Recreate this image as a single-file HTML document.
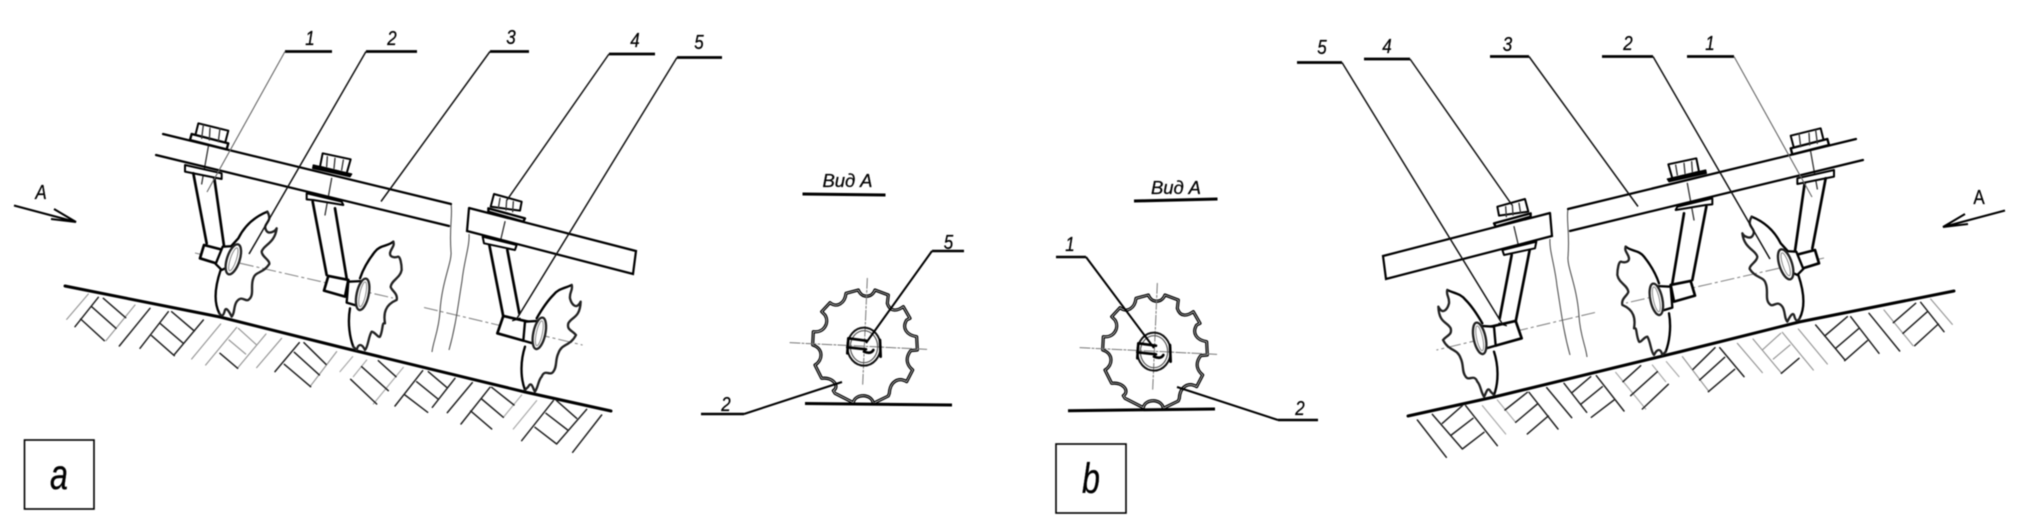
<!DOCTYPE html>
<html><head><meta charset="utf-8"><style>
html,body{margin:0;padding:0;background:#fff}
svg{display:block;filter:blur(.45px)}
text{font-family:"Liberation Sans",sans-serif;font-style:italic;fill:#000;stroke:#000;stroke-width:.25px;text-anchor:middle}
.n{font-size:20px}
</style></head><body>
<svg width="2020" height="531" viewBox="0 0 2020 531" xmlns="http://www.w3.org/2000/svg">
<defs>
<g id="a1" stroke="#000" stroke-width="6" stroke-linejoin="round" stroke-linecap="round" fill="none">
 <path stroke-width="7" d="M262,305C225,320 195,345 175,385L152,410M122,480C105,530 100,575 118,610"/>
 <path stroke="#222" stroke-width="7" d="M118,610C125,620 130,620 135,600C140,590 150,610 155,620C165,610 160,590 170,575C185,555 195,575 205,570C225,555 210,530 220,505C225,485 250,490 268,462C270,450 245,440 245,425C250,405 285,400 290,355C285,365 265,375 258,360C250,345 265,340 268,325C268,318 265,310 262,305"/>
 <path fill="#fff" d="M55,40L145,62L135,100L45,80Z"/>
 <path fill="#fff" stroke-width="7" d="M35,72L30,90L140,118L145,100Z"/>
 <path stroke-width="4" stroke="#333" d="M70,45L65,85M90,55L88,90M120,55L115,95M85,110L65,222"/>
 <path fill="#fff" d="M15,165L125,190L125,207L15,185Z"/>
 <path stroke-width="8" d="M40,190L80,400M103,205L132,408"/>
 <path fill="#fff" stroke-width="8" d="M72,405L130,420L115,462L60,445Z"/>
 <path fill="#fff" stroke-width="7" d="M128,410L165,408L170,460L125,480L107,462Z"/>
 <ellipse cx="160" cy="448" rx="19" ry="47" transform="rotate(18 160 448)" fill="#fff" stroke-width="7" stroke="#222"/>
 <ellipse cx="160" cy="448" rx="9" ry="36" transform="rotate(18 160 448)" stroke-width="3" stroke="#888"/>
</g>
<g id="a2" stroke="#000" stroke-width="6" stroke-linejoin="round" stroke-linecap="round" fill="none">
 <path stroke-width="7" d="M280,275C262,290 240,285 225,305C205,330 190,355 180,385M150,475C142,520 150,565 160,590"/>
 <path stroke="#222" stroke-width="7" d="M160,590L170,600C175,580 185,580 195,600C205,590 205,560 215,545C225,545 235,565 240,560C250,540 245,515 255,520C250,490 255,465 290,450C295,430 272,420 272,410C275,390 300,385 305,360C305,340 300,320 295,320C280,325 270,320 270,310C272,295 285,290 280,275"/>
 <path fill="#fff" d="M68,10L152,28L140,70L60,50Z"/>
 <path fill="#000" stroke-width="4" d="M40,45L155,72L150,80L38,55Z"/>
 <path stroke-width="4" stroke="#333" d="M82,20L80,50M105,25L102,55M130,30L125,60M95,85L75,195"/>
 <path fill="#fff" d="M20,130L125,155L130,165L40,150L20,148Z"/>
 <path stroke-width="8" d="M38,155L80,375M105,175L140,385"/>
 <path fill="#fff" stroke-width="8" d="M85,378L72,422L135,440L145,390Z"/>
 <path fill="#fff" stroke-width="7" d="M145,395L190,393L180,470L140,458Z"/>
 <ellipse cx="188" cy="433" rx="18" ry="48" transform="rotate(12 188 433)" fill="#fff" stroke-width="7" stroke="#222"/>
 <ellipse cx="188" cy="433" rx="9" ry="38" transform="rotate(12 188 433)" stroke-width="3" stroke="#888"/>
</g>
<g id="a3" stroke="#000" stroke-width="6" stroke-linejoin="round" stroke-linecap="round" fill="none">
 <path stroke-width="7" d="M305,285C285,295 265,295 250,315C235,330 220,350 200,385M165,470C152,510 150,560 165,600"/>
 <path stroke="#222" stroke-width="7" d="M165,600L175,590C185,570 190,600 195,605C205,590 205,570 215,560C225,535 240,560 250,545C262,530 255,510 265,490C275,460 300,470 318,435C305,420 290,420 295,400C305,380 330,385 332,335C320,360 305,345 300,325C298,305 310,300 305,285"/>
 <path fill="#fff" d="M72,12L155,35L150,62L62,50Z"/>
 <path fill="#fff" stroke-width="7" d="M55,55L165,85L160,95L55,65Z"/>
 <path stroke-width="4" stroke="#333" d="M90,25L85,55M110,30L108,60M130,35L128,65M105,95L92,150"/>
 <path fill="#fff" d="M38,140L140,165L135,180L42,160Z"/>
 <path stroke-width="8" d="M58,165L100,380M112,180L148,370"/>
 <path fill="#fff" stroke-width="8" d="M100,378L82,430L160,452L175,395Z"/>
 <path fill="#fff" stroke-width="7" d="M165,395L215,392L205,465L160,452Z"/>
 <ellipse cx="208" cy="430" rx="18" ry="48" transform="rotate(12 208 430)" fill="#fff" stroke-width="7" stroke="#222"/>
 <ellipse cx="208" cy="430" rx="9" ry="38" transform="rotate(12 208 430)" stroke-width="3" stroke="#888"/>
 <path stroke-width="4" d="M128,392L150,385"/>
</g>
<g id="side">
 <path d="M65,286L220,317L340,347L525,392L611,411" fill="none" stroke="#000" stroke-width="3" stroke-linecap="round"/>
 <g transform="translate(60,270) scale(.3333)" fill="none" stroke-linecap="round">
  <path stroke="#999" stroke-width="3.600" d="M85,72L20,148M225,105L138,212M482,162L395,267M530,172L437,285M535,175L590,225M507,210L557,252M618,192L532,295M665,205L590,293M830,245L750,350"/>
  <path stroke="#222" stroke-width="4.500" d="M115,82L45,170M130,85L197,143M95,110L168,175M62,147L133,212M270,115L178,228M325,125L240,235M335,125L403,183M300,160L370,220M275,197L343,257M430,150L342,255M480,250L533,295M718,218L645,305M732,218L798,283M703,247L778,315M673,283L752,350"/>
 </g>
 <g transform="translate(340,330) scale(.3333)" fill="none" stroke-linecap="round">
  <path stroke="#aaa" stroke-width="3.600" d="M38,80L0,125M80,90L40,140M190,112L100,222M545,195L490,262M590,212L520,297"/>
  <path stroke="#222" stroke-width="4.500" d="M65,110L145,182M32,148L110,222M115,92L168,140M248,122L165,228M265,125L320,172M230,155L295,208M195,195L263,247M345,145L277,232M397,158L322,248M450,172L363,282M455,172L522,225M425,207L490,262M392,243L455,297M640,212L545,332M650,212L710,265M618,250L683,300M585,292L650,342M740,238L650,342M785,255L698,367"/>
 </g>
 <path d="M195,253L393,298M424,307.500L582.600,345" fill="none" stroke="#888" stroke-width="1.100" stroke-dasharray="14 3 3 3"/>
 <path d="M451,204C453,215 449,226 451,252C452,262 442,281 440,311C439,330 433,342 432,352" fill="none" stroke="#555" stroke-width="1.100"/>
 <path d="M469,234C470,245 464,261 462,281C458,305 456,325 449,350" fill="none" stroke="#555" stroke-width="1.100"/>
 <g transform="translate(180,110) scale(.3333)"><use href="#a1"/></g>
 <g transform="translate(300,150) scale(.3333)"><use href="#a2"/></g>
 <g transform="translate(470,190) scale(.3333)"><use href="#a3"/></g>
 <path d="M163,134L451,204M156,155L449,226M469,208L636,251L633,274L467,231L469,208" fill="none" stroke="#000" stroke-width="2.200" stroke-linecap="round"/>
 <path d="M285,51.500H332M366,51.500H417M490,51.500H529M609,54H655M677,57.500H722" stroke="#000" stroke-width="2.800" fill="none"/>
 <path d="M285,51.500L207,192" stroke="#666" stroke-width="1.100" fill="none"/>
 <path d="M366,51.500L249,254M490,51.500L381,201.500M609,54L507,200M677,57.500L516,320" stroke="#111" stroke-width="1.500" fill="none"/>
 <path d="M14,205.500L76,222M54,209L76,222L51,219" stroke="#000" stroke-width="2" fill="none"/>
</g>
<g id="wheel" fill="none" stroke-linecap="round" stroke-linejoin="round">
 <path stroke="#000" stroke-width="9.500" d="M205,60C215,85 245,85 255,60L295,75L292,100C300,125 320,125 340,110L360,145L350,150C335,175 350,195 380,200L382,240L362,242C345,265 350,285 368,300L350,335C325,320 300,335 298,370L295,378L250,400C245,370 195,370 190,398L135,370L130,362C150,350 130,320 95,325L75,285C100,270 100,235 68,225L70,185C100,190 120,160 105,135L95,125L120,98C140,115 165,100 168,70Z"/>
 <path stroke="#fff" stroke-width="1.800" d="M205,60C215,85 245,85 255,60L295,75L292,100C300,125 320,125 340,110L360,145L350,150C335,175 350,195 380,200L382,240L362,242C345,265 350,285 368,300L350,335C325,320 300,335 298,370L295,378L250,400C245,370 195,370 190,398L135,370L130,362C150,350 130,320 95,325L75,285C100,270 100,235 68,225L70,185C100,190 120,160 105,135L95,125L120,98C140,115 165,100 168,70Z"/>
 <path stroke="#777" stroke-width="3" stroke-dasharray="30 6 6 6" d="M0,218L410,238M232,25L218,345"/>
 <ellipse cx="222" cy="230" rx="50" ry="57" stroke="#111" stroke-width="6"/>
 <ellipse cx="222" cy="230" rx="41" ry="48" stroke="#555" stroke-width="3.500"/>
 <path stroke="#000" stroke-width="8" d="M175,205L228,212M172,232L228,238M175,205L172,250M222,245C235,250 245,250 250,240M270,210L272,260"/>
</g>
</defs>
<rect width="2020" height="531" fill="#fff"/>

<use href="#side"/>
<use href="#side" transform="translate(2019,5) scale(-1,1)"/>

<g transform="translate(790,270) scale(.3333)"><use href="#wheel"/></g>
<g transform="translate(1080,275) scale(.3333)"><use href="#wheel"/></g>

<g fill="none" stroke="#000">
 <path stroke-width="3" d="M805,403.500L952,405M1068,410.700L1215,409M802.500,194L885.500,195M1134,201L1217.500,199"/>
 <path stroke-width="2.400" d="M932,251H964M701,414H744M1056,257H1086M1278,420H1318"/>
 <path stroke-width="2" d="M932,251L866,343M744,414L842,382M1086,257L1154,348M1278,420L1177,387"/>
</g>

<rect x="24.500" y="440" width="69.500" height="69" fill="none" stroke="#000" stroke-width="1.600"/>
<rect x="1056" y="444" width="70" height="69" fill="none" stroke="#000" stroke-width="1.600"/>
<text transform="translate(59,489) scale(.75,1)" font-size="43">a</text>
<text transform="translate(1091,493) scale(.75,1)" font-size="43">b</text>

<text class="n" transform="translate(310,45) scale(.85,1)">1</text>
<text class="n" transform="translate(392,45) scale(.85,1)">2</text>
<text class="n" transform="translate(511,44) scale(.85,1)">3</text>
<text class="n" transform="translate(635,47) scale(.85,1)">4</text>
<text class="n" transform="translate(699,49) scale(.85,1)">5</text>
<text class="n" transform="translate(41,199) scale(.85,1)">A</text>
<text class="n" transform="translate(1710,50) scale(.85,1)">1</text>
<text class="n" transform="translate(1628,50) scale(.85,1)">2</text>
<text class="n" transform="translate(1507.500,51) scale(.85,1)">3</text>
<text class="n" transform="translate(1387,53) scale(.85,1)">4</text>
<text class="n" transform="translate(1322,54) scale(.85,1)">5</text>
<text class="n" transform="translate(1979,204) scale(.85,1)" style="font-style:normal">A</text>
<text class="n" transform="translate(948.500,249) scale(.85,1)">5</text>
<text class="n" transform="translate(726,411) scale(.85,1)">2</text>
<text class="n" transform="translate(1070,251) scale(.85,1)">1</text>
<text class="n" transform="translate(1300,415) scale(.85,1)">2</text>
<text x="847.500" y="187" font-size="18.500" textLength="50">Вид А</text>
<text x="1176" y="194" font-size="18.500" textLength="50">Вид А</text>
</svg>
</body></html>
